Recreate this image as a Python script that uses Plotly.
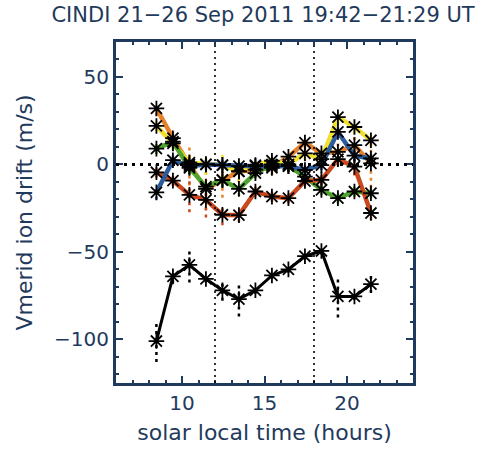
import plotly.graph_objects as go

# solar local time bins (hours)
slt = [8.45, 9.45, 10.45, 11.45, 12.45, 13.45, 14.45, 15.45, 16.45, 17.45, 18.45, 19.45, 20.45, 21.45]

# mean meridional drift (m/s) and its spread
mean_v = [-101, -64, -57.5, -65.5, -72, -77, -72, -63.5, -60, -52.5, -49.5, -75.5, -75.5, -68.5]
mean_err = [12, 4, 10, 2, 6, 10, 2, 2, 2, 2, 2, 12, 2, 5]

# individual days
orange_v = [32, 15, 0, -14, -9, -4, -3, -2, 4.4, 12.5, 6.3, 7.2, 11, 0.6]
orange_err = [4, 6, 12, 12, 10, 6, 4, 4, 4, 4, 4, 5, 5, 14]
yellow_v = [22, 12, 1, 0, -0.4, -4, -0.4, 2.1, 0, 6.3, 3, 27, 21.4, 13.8]
yellow_err = [3, 4, 6, 6, 8, 6, 4, 4, 4, 4, 5, 4, 4, 4]
green_v = [9, 13, -2, -12.7, -8.9, -14, -5, 0, -1, -7, -14.6, -19.3, -15.5, -16.5]
green_err = [3, 3, 4, 4, 4, 4, 3, 3, 3, 3, 3, 3, 3, 3]
red_v = [-4.5, -9.3, -17.4, -20.3, -28.8, -29, -15.5, -18.4, -19.3, -9.5, -8.9, 3, -1.3, -27.8]
red_err = [3, 3, 10, 10, 6, 4, 3, 3, 3, 3, 3, 4, 5, 4]
blue_v = [-16, 2.4, -1, 0, -0.4, -1, -1, -1, -1, -3.2, -0.4, 18.6, 5, 3.4]
blue_err = [4, 3, 3, 3, 3, 3, 3, 3, 3, 3, 3, 3, 3, 3]

days = [
    ("#E8822A", orange_v, orange_err),
    ("#F2E030", yellow_v, yellow_err),
    ("#4EA52C", green_v, green_err),
    ("#C9481E", red_v, red_err),
    ("#2D5C9E", blue_v, blue_err),
]

NAVY = "#1F3A5C"
FONT = "DejaVu Sans, sans-serif"
fig = go.Figure()


def err_segments(xs, ys, es):
    ex, ey = [], []
    for x, y, e in zip(xs, ys, es):
        ex += [x, x, None]
        ey += [y - e, y + e, None]
    return ex, ey


# error bars (dotted)
for col, v, e in days:
    ex, ey = err_segments(slt, v, e)
    fig.add_trace(go.Scatter(x=ex, y=ey, mode="lines",
                             line=dict(color=col, width=2.5, dash="3px,4px"),
                             hoverinfo="skip", showlegend=False))
ex, ey = err_segments(slt, mean_v, mean_err)
fig.add_trace(go.Scatter(x=ex, y=ey, mode="lines",
                         line=dict(color="black", width=2.5, dash="3px,4px"),
                         hoverinfo="skip", showlegend=False))

# daily lines
for col, v, e in days:
    fig.add_trace(go.Scatter(x=slt, y=v, mode="lines",
                             line=dict(color=col, width=4.5),
                             showlegend=False))
# asterisk markers on daily values
for col, v, e in days:
    fig.add_trace(go.Scatter(x=slt, y=v, mode="markers",
                             marker=dict(symbol="asterisk-open", size=13, color="black",
                                         line=dict(color="black", width=1.8)),
                             showlegend=False))

# mean line
fig.add_trace(go.Scatter(x=slt, y=mean_v, mode="lines+markers",
                         line=dict(color="black", width=3),
                         marker=dict(symbol="asterisk-open", size=13, color="black",
                                     line=dict(color="black", width=1.8)),
                         showlegend=False))

# reference lines
fig.add_hline(y=0, line=dict(color="black", width=3, dash="3px,5px"))
fig.add_vline(x=12, line=dict(color="black", width=1.6, dash="2px,4px"))
fig.add_vline(x=18, line=dict(color="black", width=1.6, dash="2px,4px"))

fig.update_layout(
    width=480, height=453,
    margin=dict(l=116, r=67, t=42, b=67),
    paper_bgcolor="white", plot_bgcolor="white",
    font=dict(family=FONT, size=20, color=NAVY),
    title=dict(text="CINDI 21\u221226 Sep 2011 19:42\u221221:29 UT",
               x=0.548, xanchor="center", y=0.967, yanchor="middle",
               font=dict(family=FONT, size=21, color=NAVY)),
)
fig.update_xaxes(
    range=[6, 24], tick0=10, dtick=5, ticks="inside", ticklen=7, tickwidth=1.5,
    tickcolor=NAVY, showline=True, linecolor=NAVY, linewidth=3, mirror="ticks",
    showgrid=False, zeroline=False,
    minor=dict(dtick=1, ticks="inside", ticklen=3, tickcolor=NAVY, showgrid=False),
    title=dict(text="solar local time (hours)", standoff=11, font=dict(family=FONT, size=22, color=NAVY)),
    tickfont=dict(family=FONT, size=20, color=NAVY),
)
fig.update_yaxes(
    range=[-125, 70], tick0=0, dtick=50, ticks="inside", ticklen=7, tickwidth=1.5,
    tickcolor=NAVY, showline=True, linecolor=NAVY, linewidth=3, mirror="ticks",
    showgrid=False, zeroline=False,
    minor=dict(dtick=10, ticks="inside", ticklen=3, tickcolor=NAVY, showgrid=False),
    title=dict(text="Vmerid ion drift (m/s)", standoff=16, font=dict(family=FONT, size=22, color=NAVY)),
    tickfont=dict(family=FONT, size=20, color=NAVY), tickformat="d",
)

fig.write_html("out.html")
